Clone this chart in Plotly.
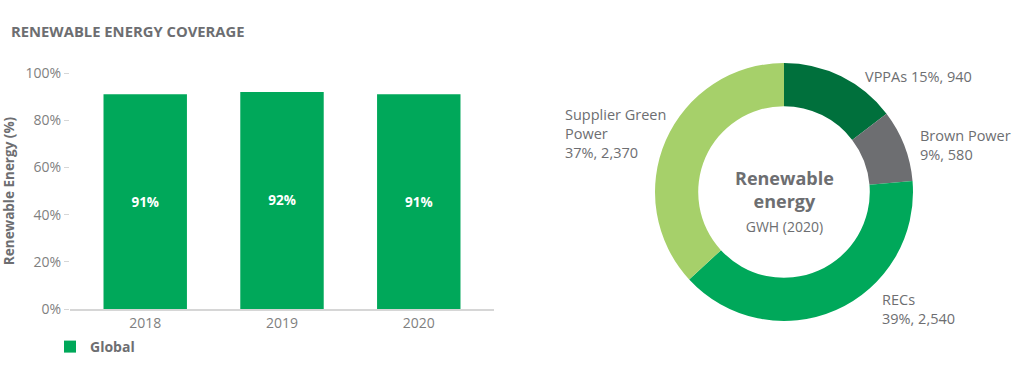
import plotly.graph_objects as go

# ---- data ----
years = ["2018", "2019", "2020"]
coverage = [91, 92, 91]          # % renewable
series_name = "Global"

slice_labels = ["VPPAs", "Brown Power", "RECs", "Supplier Green Power"]
slice_values = [940, 580, 2540, 2370]   # GWh 2020
slice_pcts = [15, 9, 39, 37]
slice_label_text = ["VPPAs", "Brown Power", "RECs", "Supplier Green<br>Power"]

y_ticks = [0, 20, 40, 60, 80, 100]
y_ticklabels = [f"{v}%" for v in y_ticks]

# ---- styles ----
FONT = "Open Sans"
GREY = "#6d6e71"
TICKGREY = "#7f7f7f"
BAR_GREEN = "#00a85a"
slice_colors = ["#00703c", "#6d6e71", "#00a85a", "#a6d06a"]

fig = go.Figure()

fig.add_trace(go.Bar(
    x=years, y=coverage, name=series_name,
    marker=dict(color=BAR_GREEN, line=dict(width=0)),
    text=[f"{v}%" for v in coverage], textposition="inside",
    insidetextanchor="middle",
    textfont=dict(family=FONT, size=13.5, color="white", weight="bold"),
    width=0.61, showlegend=True, xaxis="x", yaxis="y",
))

fig.add_trace(go.Pie(
    labels=slice_labels, values=slice_values, hole=0.665,
    sort=False, direction="clockwise", rotation=0,
    marker=dict(colors=slice_colors, line=dict(width=0)),
    textinfo="none", showlegend=False,
    domain=dict(x=[(784 - 129) / 1024, (784 + 129) / 1024],
                y=[(372 - 321) / 372, (372 - 63) / 372]),
))

# external pie labels built from data
label_pos = [  # (x_px, y_px center)
    (863, 76),
    (918, 145),
    (880, 309),
    (563, 133),
]
annotations = []
for lab, val, pct, (px, py) in zip(slice_label_text, slice_values, slice_pcts, label_pos):
    if lab == "VPPAs":
        txt = f"{lab} {pct}%, {val:,}"
    else:
        txt = f"{lab}<br>{pct}%, {val:,}"
    annotations.append(dict(
        x=px / 1024, y=1 - py / 372, xref="paper", yref="paper",
        xanchor="left", yanchor="middle", text=txt, showarrow=False, align="left",
        font=dict(family=FONT, size=14.5, color=GREY),
    ))

# centre text
annotations.append(dict(
    x=784 / 1024, y=1 - 201 / 372, xref="paper", yref="paper",
    xanchor="center", yanchor="middle", showarrow=False, align="center",
    text="<b>Renewable<br>energy</b><br><span style='font-size:14px'>GWH (2020)</span>",
    font=dict(family=FONT, size=18, color=GREY),
))

fig.update_layout(
    width=1024, height=372,
    margin=dict(l=0, r=0, t=0, b=0, autoexpand=False),
    paper_bgcolor="white", plot_bgcolor="white",
    font=dict(family=FONT, color=GREY),
    title=dict(text="<b>RENEWABLE ENERGY COVERAGE</b>", x=11 / 1024, xanchor="left",
               y=1 - 32 / 372, yanchor="middle",
               font=dict(family=FONT, size=14.8, color=GREY)),
    xaxis=dict(domain=[70 / 1024, 494 / 1024], range=[-0.55, 2.55],
               showline=True, linecolor="#d6d6d6", linewidth=1.5,
               ticks="", showgrid=False, automargin=False,
               tickfont=dict(family=FONT, size=14, color=TICKGREY)),
    yaxis=dict(domain=[(372 - 309) / 372, (372 - 73) / 372], range=[0, 100],
               tickvals=y_ticks, ticktext=y_ticklabels,
               ticks="outside", ticklen=5, tickcolor="#d6d6d6",
               showgrid=False, zeroline=False, showline=False, automargin=False,
               tickfont=dict(family=FONT, size=14, color=TICKGREY),
               title=dict(text="<b>Renewable Energy (%)</b>",
                          font=dict(family=FONT, size=13.5, color=GREY), standoff=8)),
    legend=dict(orientation="h", x=50 / 1024, y=1 - 347 / 372, xanchor="left",
                yanchor="middle", font=dict(family=FONT, size=14, color=GREY, weight="bold"),
                itemwidth=30, bgcolor="rgba(0,0,0,0)"),
    annotations=annotations,
)

fig.write_html("out.html", config={"displayModeBar": False},
               post_script="document.body.style.margin='0px';")
